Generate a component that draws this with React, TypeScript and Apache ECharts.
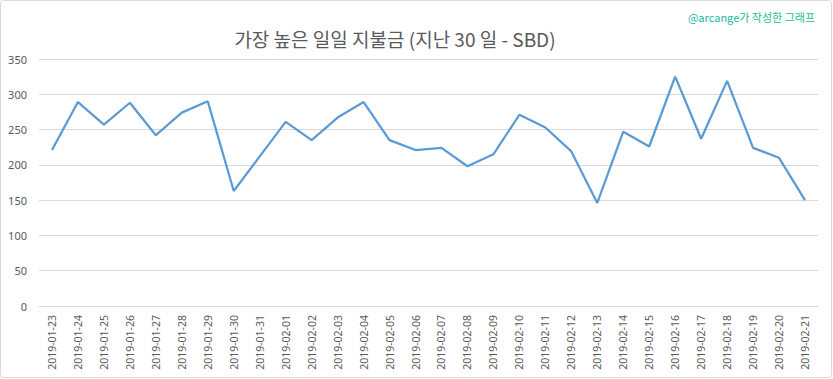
import React, { useEffect, useRef } from "react";
import * as echarts from "echarts";

const dates = [
  "2019-01-23", "2019-01-24", "2019-01-25", "2019-01-26", "2019-01-27", "2019-01-28",
  "2019-01-29", "2019-01-30", "2019-01-31", "2019-02-01", "2019-02-02", "2019-02-03",
  "2019-02-04", "2019-02-05", "2019-02-06", "2019-02-07", "2019-02-08", "2019-02-09",
  "2019-02-10", "2019-02-11", "2019-02-12", "2019-02-13", "2019-02-14", "2019-02-15",
  "2019-02-16", "2019-02-17", "2019-02-18", "2019-02-19", "2019-02-20", "2019-02-21",
];
const payouts = [
  221, 289, 257, 288, 242, 274, 290, 163, 212, 261, 235, 267, 289, 235, 221,
  224, 198, 215, 271, 253, 219, 146, 247, 226, 325, 237, 319, 224, 210, 150,
];
const titleText = "가장 높은 일일 지불금 (지난 30 일 - SBD)";
const creditText = "@arcange가 작성한 그래프";

export default function App() {
  const ref = useRef<HTMLDivElement>(null);
  useEffect(() => {
    if (!ref.current) return;
    const chart = echarts.init(ref.current, null, { renderer: "svg" });
    chart.setOption({
      animation: false,
      backgroundColor: "#ffffff",
      title: {
        text: titleText,
        left: 390,
        top: 24,
        textAlign: "center",
        textStyle: {
          fontFamily: "Noto Sans CJK KR",
          fontSize: 19,
          fontWeight: "normal",
          color: "#595959",
        },
      },
      graphic: [
        {
          type: "rect",
          shape: { x: 0.5, y: 0.5, width: 831, height: 377, r: 3 },
          style: { fill: "none", stroke: "#d9d9d9", lineWidth: 1 },
          silent: true,
        },
        {
          type: "text",
          right: 18,
          top: 11,
          style: {
            text: creditText,
            fill: "#1abc9c",
            font: "11px 'Noto Sans CJK KR'",
          },
        },
      ],
      grid: { left: 39, right: 15, top: 59, bottom: 73 },
      xAxis: {
        type: "category",
        data: dates,
        boundaryGap: true,
        axisLine: { show: true, lineStyle: { color: "#d9d9d9" } },
        axisTick: { show: false },
        axisLabel: {
          rotate: 90,
          interval: 0,
          color: "#595959",
          fontFamily: "Noto Sans",
          fontSize: 10.5,
          margin: 9,
        },
      },
      yAxis: {
        type: "value",
        min: 0,
        max: 350,
        interval: 50,
        axisLine: { show: false },
        axisTick: { show: false },
        splitLine: { lineStyle: { color: "#d9d9d9", width: 1 } },
        axisLabel: {
          color: "#595959",
          fontFamily: "Noto Sans",
          fontSize: 11,
          margin: 12,
        },
      },
      series: [
        {
          type: "line",
          data: payouts,
          symbol: "none",
          lineStyle: { color: "#5b9bd5", width: 2.25 },
        },
      ],
    });
    return () => chart.dispose();
  }, []);
  return (
    <div
      ref={ref}
      style={{ position: "absolute", left: 0, top: 0, width: 833, height: 379 }}
    />
  );
}
